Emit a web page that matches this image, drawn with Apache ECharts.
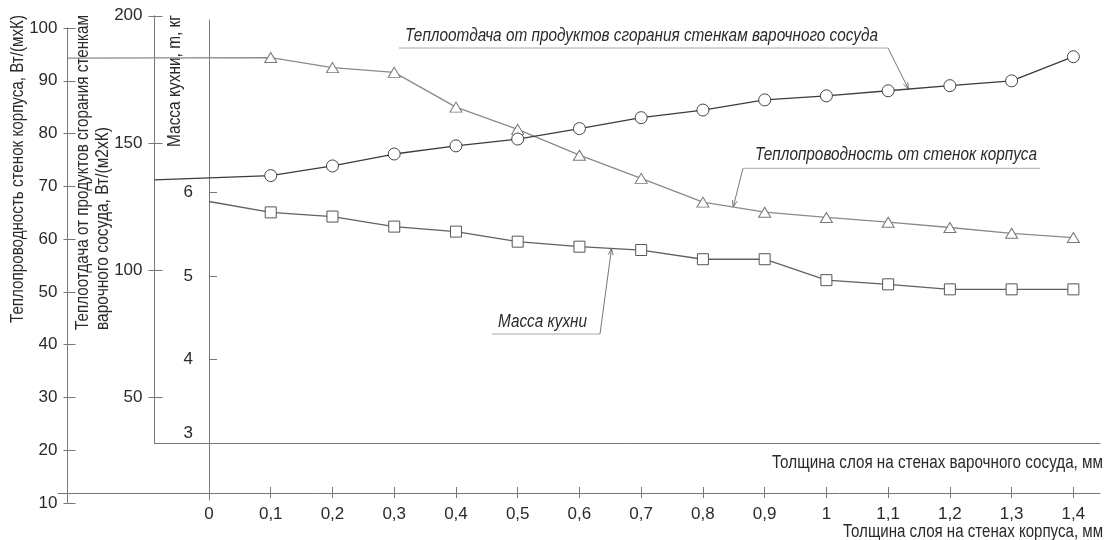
<!DOCTYPE html>
<html><head><meta charset="utf-8">
<script src="https://cdn.jsdelivr.net/npm/echarts@6/dist/echarts.min.js"></script>
<style>html,body{margin:0;padding:0;background:#fff}#c{width:1106px;height:540px}</style>
</head><body><div id="c"></div>
<script>
// ---- data ----
const xValues = [0.1, 0.2, 0.3, 0.4, 0.5, 0.6, 0.7, 0.8, 0.9, 1.0, 1.1, 1.2, 1.3, 1.4];
const xTicks = [0, 0.1, 0.2, 0.3, 0.4, 0.5, 0.6, 0.7, 0.8, 0.9, 1.0, 1.1, 1.2, 1.3, 1.4];
// Теплопроводность стенок корпуса, Вт/(мхК) (triangles)
const conductivityStart = 94.3;
const conductivity = [94.4, 92.5, 91.6, 85.0, 80.8, 75.9, 71.5, 67.0, 65.1, 64.1, 63.2, 62.2, 61.1, 60.3];
// Теплоотдача от продуктов сгорания, Вт/(м2хК) (circles)
const heatTransferStart = 135.4;
const heatTransfer = [137.1, 140.9, 145.6, 148.8, 151.5, 155.6, 159.9, 162.9, 166.9, 168.5, 170.5, 172.5, 174.4, 183.9];
// Масса кухни, кг (squares)
const massStart = 5.89;
const mass = [5.76, 5.71, 5.59, 5.53, 5.41, 5.35, 5.31, 5.20, 5.20, 4.95, 4.90, 4.84, 4.84, 4.84];
const ticksA2 = [50, 100, 150, 200];
const ticksA3 = [3, 4, 5, 6];

// ---- layout ----
const X0 = 209, PX = 617.4, XR = 1100, W = 1106, H = 540;
const xMax = (XR - X0) / PX;
const xMinAt = l => (l - X0) / PX;
const FONT = "'Liberation Sans', Arial, sans-serif";
const AX = '#777', TXT = '#2a2a2a';

const gridDefs = [
  {left: 58, top: 20, bottom: H - 493},     // 0 bottom x axis
  {left: 58, top: 20, bottom: H - 493},     // 1 bottom x axis outside ticks
  {left: 67.5, top: 28, bottom: H - 503},   // 2 A1
  {left: 67.5, top: 28, bottom: H - 503},   // 3 A1 outside ticks
  {left: 154.5, top: 15.8, bottom: H - 443.3}, // 4 A2 + upper x
  {left: 154.5, top: 15.8, bottom: H - 443.3}, // 5 A2 outside ticks
  {left: 209, top: 20, bottom: H - 500}     // 6 A3
];
const grid = gridDefs.map(g => ({left: g.left, right: W - XR, top: g.top, bottom: g.bottom, outerBoundsMode: 'none', containLabel: false}));
const fmt = v => String(Math.round(v * 10) / 10).replace('.', ',');

const hid = {show: false};
const xAxis = gridDefs.map((g, i) => ({
  type: 'value', gridIndex: i, min: xMinAt(g.left), max: xMax, position: 'bottom',
  splitLine: hid, axisLine: {show: false, onZero: false}, axisTick: hid, axisLabel: hid
}));
Object.assign(xAxis[0], {
  axisLine: {show: true, onZero: false, lineStyle: {color: AX, width: 1}},
  axisTick: {show: true, inside: true, length: 6, customValues: xTicks, lineStyle: {color: AX}},
  axisLabel: {show: true, customValues: xTicks, formatter: fmt, margin: 13, fontFamily: FONT, fontSize: 17, color: TXT}
});
Object.assign(xAxis[1], {
  axisTick: {show: true, inside: false, length: 5, customValues: xTicks, lineStyle: {color: AX}}
});
Object.assign(xAxis[4], {
  axisLine: {show: true, onZero: false, lineStyle: {color: AX, width: 1}}
});

const yAxis = gridDefs.map((g, i) => ({
  type: 'value', gridIndex: i, min: 0, max: 1, position: 'left',
  splitLine: hid, axisLine: {show: false, onZero: false}, axisTick: hid, axisLabel: hid
}));
const lbl = (m) => ({show: true, margin: m, fontFamily: FONT, fontSize: 17, color: TXT});
const line = {show: true, onZero: false, lineStyle: {color: AX}};
Object.assign(yAxis[2], {
  min: 10, max: 100, interval: 10, axisLine: line,
  axisTick: {show: true, inside: true, length: 8, lineStyle: {color: AX}},
  axisLabel: lbl(10)
});
Object.assign(yAxis[3], {
  min: 10, max: 100, interval: 10,
  axisTick: {show: true, inside: false, length: 4, lineStyle: {color: AX}}
});
const a2min = 50 - (443.3 - 396.9) / 2.541;
Object.assign(yAxis[4], {
  min: a2min, max: 200, axisLine: line,
  axisTick: {show: true, inside: true, length: 8, customValues: ticksA2, lineStyle: {color: AX}},
  axisLabel: Object.assign(lbl(12), {customValues: ticksA2})
});
Object.assign(yAxis[5], {
  min: a2min, max: 200,
  axisTick: {show: true, inside: false, length: 6, customValues: ticksA2, lineStyle: {color: AX}}
});
const a3per = (443.3 - 192.3) / 3;
Object.assign(yAxis[6], {
  min: 3 - (500 - 443.3) / a3per, max: 3 + (443.3 - 20) / a3per, axisLine: line,
  axisTick: {show: true, inside: true, length: 8, customValues: ticksA3, lineStyle: {color: AX}},
  axisLabel: Object.assign(lbl(16), {
    customValues: ticksA3,
    formatter: v => v === 3 ? '{s|3}' : String(v),
    rich: {s: {fontFamily: FONT, fontSize: 17, color: TXT, padding: [0, 0, 20, 0]}}
  })
});

function build(xStart, start, vals) {
  const d = [{value: [xStart, start], symbol: 'none'}];
  xValues.forEach((x, i) => d.push({value: [x, vals[i]]}));
  return d;
}
const series = [
  {type: 'line', name: 'Теплопроводность от стенок корпуса', xAxisIndex: 2, yAxisIndex: 2,
   data: build(xMinAt(gridDefs[2].left), conductivityStart, conductivity),
   symbol: 'triangle', symbolSize: [12, 10], showAllSymbol: true,
   lineStyle: {color: '#8a8a8a', width: 1.3}, itemStyle: {color: '#fff', borderColor: '#777', borderWidth: 1}},
  {type: 'line', name: 'Теплоотдача от продуктов сгорания стенкам варочного сосуда', xAxisIndex: 4, yAxisIndex: 4,
   data: build(xMinAt(gridDefs[4].left), heatTransferStart, heatTransfer),
   symbol: 'circle', symbolSize: 12, showAllSymbol: true,
   lineStyle: {color: '#3c3c3c', width: 1.3}, itemStyle: {color: '#fff', borderColor: '#444', borderWidth: 1}},
  {type: 'line', name: 'Масса кухни', xAxisIndex: 6, yAxisIndex: 6,
   data: build(0, massStart, mass),
   symbol: 'rect', symbolSize: 11, showAllSymbol: true,
   lineStyle: {color: '#606060', width: 1.3}, itemStyle: {color: '#fff', borderColor: '#555', borderWidth: 1}}
];
series.forEach(s => { s.animation = false; s.silent = true; s.emphasis = {disabled: true}; });

const chart = echarts.init(document.getElementById('c'), null, {renderer: 'canvas'});
chart.setOption({animation: false, backgroundColor: '#fff', grid, xAxis, yAxis, series});

// ---- text helpers: condensed text fitted to the reference's length ----
const cv = document.createElement('canvas').getContext('2d');
function textW(t, size, italic) { cv.font = (italic ? 'italic ' : '') + size + 'px ' + FONT; return cv.measureText(t).width; }
function fitText(t, x, y, len, opts) {
  opts = opts || {};
  const size = opts.size || 18;
  const w = textW(t, size, opts.italic);
  return {type: 'text', x: x, y: y, rotation: opts.rot || 0, scaleX: len / w, scaleY: 1,
    style: {text: t, fontFamily: FONT, fontSize: size, fontStyle: opts.italic ? 'italic' : 'normal', fill: TXT,
      textAlign: opts.align || 'left', textVerticalAlign: 'middle'}};
}
const R = Math.PI / 2;
const graphics = [
  fitText('Теплопроводность стенок корпуса, Вт/(мхК)', 18.5, 323, 308, {rot: R}),
  fitText('Теплоотдача от продуктов сгорания стенкам', 83.5, 330, 315, {rot: R}),
  fitText('варочного сосуда, Вт/(м2хК)', 103.5, 330, 203, {rot: R}),
  fitText('Масса кухни, m, кг', 175, 147, 132, {rot: R}),
  fitText('Толщина слоя на стенах варочного сосуда, мм', 1103, 463, 331, {align: 'right'}),
  fitText('Толщина слоя на стенах корпуса, мм', 1103, 532, 260, {align: 'right'})
];
function interp(vals, start, x) {
  const xs = [0].concat(xValues), vs = [start].concat(vals);
  for (let i = 0; i < xs.length - 1; i++) if (x >= xs[i] && x <= xs[i + 1]) {
    const t = (x - xs[i]) / (xs[i + 1] - xs[i]); return vs[i] + t * (vs[i + 1] - vs[i]);
  }
  return vs[vs.length - 1];
}
const notes = [
  {text: 'Теплоотдача от продуктов сгорания стенкам варочного сосуда', tx: 405, ty: 36, len: 473, ul: [399, 888, 48], from: [888, 48],
   ax: 1.133, vals: heatTransfer, start: heatTransferStart, xi: 4, yi: 4},
  {text: 'Теплопроводность от стенок корпуса', tx: 755, ty: 155, len: 282, ul: [743, 1040, 168.3], from: [743, 168.3],
   ax: 0.849, vals: conductivity, start: conductivity[0], xi: 2, yi: 2},
  {text: 'Масса кухни', tx: 498, ty: 321.7, len: 89, ul: [491.7, 600, 334], from: [600, 334],
   ax: 0.652, vals: mass, start: massStart, xi: 6, yi: 6}
];
notes.forEach(n => {
  const tip = chart.convertToPixel({xAxisIndex: n.xi, yAxisIndex: n.yi}, [n.ax, interp(n.vals, n.start, n.ax)]);
  graphics.push(fitText(n.text, n.tx, n.ty, n.len, {italic: true, size: 18}));
  graphics.push({type: 'line', shape: {x1: n.ul[0], y1: n.ul[2], x2: n.ul[1], y2: n.ul[2]}, style: {stroke: '#aaa', lineWidth: 1}});
  graphics.push({type: 'line', shape: {x1: n.from[0], y1: n.from[1], x2: tip[0], y2: tip[1]}, style: {stroke: '#777', lineWidth: 1}});
  const ang = Math.atan2(tip[1] - n.from[1], tip[0] - n.from[0]);
  const L = 7, s = 0.35;
  graphics.push({type: 'polyline', shape: {points: [
    [tip[0] - L * Math.cos(ang - s), tip[1] - L * Math.sin(ang - s)], tip,
    [tip[0] - L * Math.cos(ang + s), tip[1] - L * Math.sin(ang + s)]]}, style: {stroke: '#777', lineWidth: 1, fill: null}});
});
chart.setOption({graphic: graphics});
</script></body></html>
